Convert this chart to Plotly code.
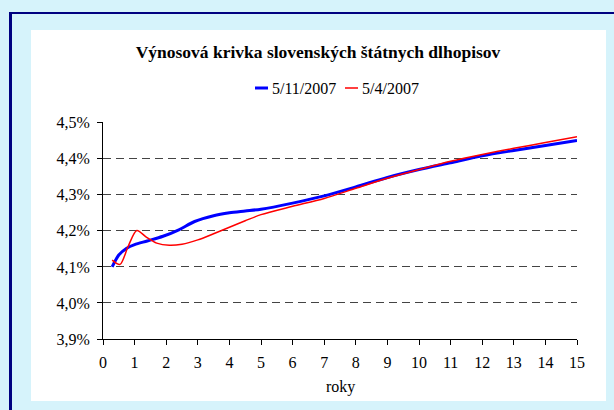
import plotly.graph_objects as go

# yield curve, maturity in years vs yield in %
roky_1105 = [0.29, 0.5, 0.75, 1.0, 1.4, 1.9, 2.4, 2.9, 3.5, 4.0, 4.5, 5.0, 6, 7, 8, 9, 10, 11, 12, 13, 14, 15]
vynos_1105 = [4.100, 4.133, 4.152, 4.162, 4.172, 4.185, 4.203, 4.226, 4.242, 4.250, 4.255, 4.260,
              4.277, 4.297, 4.322, 4.348, 4.370, 4.389, 4.408, 4.423, 4.437, 4.451]

roky_0405 = [0.29, 0.54, 0.8, 1.07, 1.38, 1.7, 2.1, 2.5, 3.0, 3.5, 4.0, 4.5, 5.0, 6, 7, 8, 9, 10, 11, 12, 13, 14, 15]
vynos_0405 = [4.119, 4.107, 4.158, 4.201, 4.182, 4.166, 4.160, 4.163, 4.175, 4.192, 4.210, 4.228, 4.245,
              4.268, 4.290, 4.318, 4.346, 4.370, 4.393, 4.412, 4.429, 4.445, 4.461]

x_ticks = list(range(0, 16))
y_ticks = [3.9, 4.0, 4.1, 4.2, 4.3, 4.4, 4.5]
y_labels = ["3,9%", "4,0%", "4,1%", "4,2%", "4,3%", "4,4%", "4,5%"]

font = "Liberation Serif"

# pixel -> paper helpers (plot area 103..577 x 122..339)
L, R, T, B = 103, 577, 122, 339
def px(x):
    return (x - L) / (R - L)
def py(y):
    return (B - y) / (B - T)

fig = go.Figure()
fig.add_trace(go.Scatter(x=roky_1105, y=vynos_1105, mode="lines", name="5/11/2007",
                         line=dict(color="#0000FF", width=3, shape="spline", smoothing=0.8)))
fig.add_trace(go.Scatter(x=roky_0405, y=vynos_0405, mode="lines", name="5/4/2007",
                         line=dict(color="#FF0000", width=1.5, shape="spline", smoothing=0.8)))

shapes = [
    # white inner panel
    dict(type="rect", xref="paper", yref="paper", x0=px(31), x1=px(606), y0=py(401), y1=py(30),
         fillcolor="white", line_width=0, layer="below"),
    # navy frame
    dict(type="rect", xref="paper", yref="paper", x0=px(9), x1=px(12), y0=py(410), y1=py(12),
         fillcolor="#000080", line_width=0, layer="below"),
    dict(type="rect", xref="paper", yref="paper", x0=px(9), x1=px(614), y0=py(14), y1=py(12),
         fillcolor="#000080", line_width=0, layer="below"),
    # legend samples
    dict(type="line", xref="paper", yref="paper", x0=px(255), x1=px(268), y0=py(88), y1=py(88),
         line=dict(color="#0000FF", width=3)),
    dict(type="line", xref="paper", yref="paper", x0=px(345), x1=px(358), y0=py(88), y1=py(88),
         line=dict(color="#FF0000", width=1.5)),
]

annotations = [
    dict(text="5/11/2007", xref="paper", yref="paper", x=px(270), y=py(88), xanchor="left",
         yanchor="middle", showarrow=False, font=dict(family=font, size=16, color="black")),
    dict(text="5/4/2007", xref="paper", yref="paper", x=px(360), y=py(88), xanchor="left",
         yanchor="middle", showarrow=False, font=dict(family=font, size=16, color="black")),
    dict(text="roky", xref="paper", yref="paper", x=0.5, y=py(387), xanchor="center",
         yanchor="middle", showarrow=False, font=dict(family=font, size=16, color="black")),
]

fig.update_layout(
    width=614, height=410,
    margin=dict(l=L, r=614 - R, t=T, b=410 - B),
    paper_bgcolor="#D6F3FB", plot_bgcolor="white",
    showlegend=False,
    title=dict(text="<b>Výnosová krivka slovenských štátnych dlhopisov</b>",
               x=318 / 614, y=1 - 52 / 410, xanchor="center", yanchor="middle",
               font=dict(family=font, size=17.5, color="black")),
    shapes=shapes, annotations=annotations,
    font=dict(family=font, size=16, color="black"),
)

fig.update_xaxes(range=[0, 15], tickvals=x_ticks, showgrid=False, zeroline=False,
                 showline=True, linecolor="black", linewidth=1,
                 ticks="outside", ticklen=5, tickcolor="black", ticklabelstandoff=4)
fig.update_yaxes(range=[3.9, 4.502], tickvals=y_ticks, ticktext=y_labels,
                 showgrid=True, gridcolor="#444444", gridwidth=1, griddash="8px,5px",
                 zeroline=False, showline=True, linecolor="black", linewidth=1,
                 ticks="outside", ticklen=5, tickcolor="black", ticklabelstandoff=4)

fig.write_html("out.html", config={"displayModeBar": False},
               post_script="document.body.style.margin='0';")
